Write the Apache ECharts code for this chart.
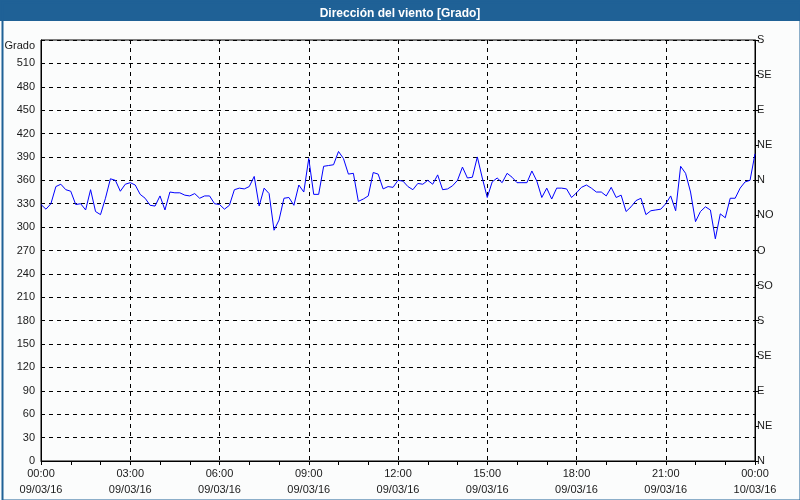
<!DOCTYPE html>
<html>
<head>
<meta charset="utf-8">
<script src="https://cdn.jsdelivr.net/npm/echarts@6/dist/echarts.min.js"></script>
<style>
html,body{margin:0;padding:0;background:#fbfcfc;}
#c{width:800px;height:500px;}
</style>
</head>
<body>
<div id="c"></div>
<script>
// Wind direction in degrees, one reading every 10 minutes, 09/03/16 00:00 -> 10/03/16 00:00
const values = [
329,323,330,352,355,348,346,329,330,322,348,320,316,337,362,360,346,355,357,354,342,337,328,327,340,322,345,344,344,341,340,343,337,
340,340,330,329,323,328,348,350,349,352,365,327,350,343,296,309,337,338,328,354,345,388,342,342,378,379,380,397,388,368,369,333,336,340,370,368,349,
352,351,360,359,352,348,356,355,360,355,367,348,349,353,360,377,363,364,390,363,338,358,363,357,369,364,357,357,357,372,359,338,350,336,350,350,349,338,344,
351,354,350,345,345,340,351,338,341,320,326,334,337,316,321,322,323,330,340,321,378,369,345,307,320,326,322,285,317,312,337,337,350,358,360,394
];
const stepMinutes = 10;
const minutes = values.map((v, i) => i * stepMinutes);
const xTickLabels = ['00:00\n09/03/16','03:00\n09/03/16','06:00\n09/03/16','09:00\n09/03/16','12:00\n09/03/16','15:00\n09/03/16','18:00\n09/03/16','21:00\n09/03/16','00:00\n10/03/16'];
const leftTicks = [0,30,60,90,120,150,180,210,240,270,300,330,360,390,420,450,480,510];
const rightLabels = ['N','NE','E','SE','S','SO','O','NO','N','NE','E','SE','S'];

const chart = echarts.init(document.getElementById('c'), null, {renderer:'canvas'});
const font = '"Liberation Sans", Arial, sans-serif';
chart.setOption({
  animation:false,
  backgroundColor:'#fbfcfc',
  textStyle:{fontFamily:font},
  graphic:[
    {type:'rect', left:0, top:0, shape:{width:800,height:21}, style:{fill:'#1f6196'}, z:0},
    {type:'rect', left:0, top:0, shape:{x:1,y:1,width:798,height:498}, style:{fill:'none', stroke:'#1f6196', lineWidth:2}, z:0}
  ],
  title:{text:'Dirección del viento [Grado]', left:'center', top:3,
    textStyle:{color:'#ffffff', fontSize:12, fontWeight:'bold', fontFamily:font}},
  grid:{left:41, right:45, top:40, bottom:39, show:true, borderColor:'#000', borderWidth:1, backgroundColor:'transparent'},
  xAxis:{type:'value', min:0, max:1440, interval:180,
    axisLine:{show:true, lineStyle:{color:'#000', width:1}},
    axisTick:{show:true, length:4, lineStyle:{color:'#000'}},
    minorTick:{show:true, splitNumber:3, length:4, lineStyle:{color:'#000'}},
    axisLabel:{color:'#1a1a1a', fontSize:11, lineHeight:16, margin:5,
      formatter:(v)=> xTickLabels[Math.round(v/180)]},
    splitLine:{show:true, lineStyle:{color:'#000', type:[4,4], width:1}}
  },
  yAxis:[
    {type:'value', min:0, max:540, interval:30, position:'left',
      axisLine:{show:true, lineStyle:{color:'#000'}},
      axisTick:{show:false},
      axisLabel:{color:'#1a1a1a', fontSize:11, margin:6,
        formatter:(v)=> v===540 ? '{g|Grado}' : (leftTicks.indexOf(v)>=0 ? String(v) : ''),
        rich:{g:{fontSize:11, color:'#1a1a1a', padding:[12,0,0,0], fontFamily:font}}},
      splitLine:{show:true, lineStyle:{color:'#000', type:[4,4], width:1}}
    },
    {type:'value', min:0, max:540, interval:45, position:'right',
      axisLine:{show:true, lineStyle:{color:'#000'}},
      axisTick:{show:true, length:4, lineStyle:{color:'#000'}},
      axisLabel:{color:'#1a1a1a', fontSize:11, margin:2, padding:[5,0,0,0],
        formatter:(v)=> rightLabels[Math.round(v/45)]},
      splitLine:{show:false}
    }
  ],
  series:[{type:'line', yAxisIndex:0, showSymbol:false, symbol:'none',
    lineStyle:{color:'#0000ff', width:1}, data: values.map((v,i)=>[minutes[i], v])}]
});
</script>
</body>
</html>
